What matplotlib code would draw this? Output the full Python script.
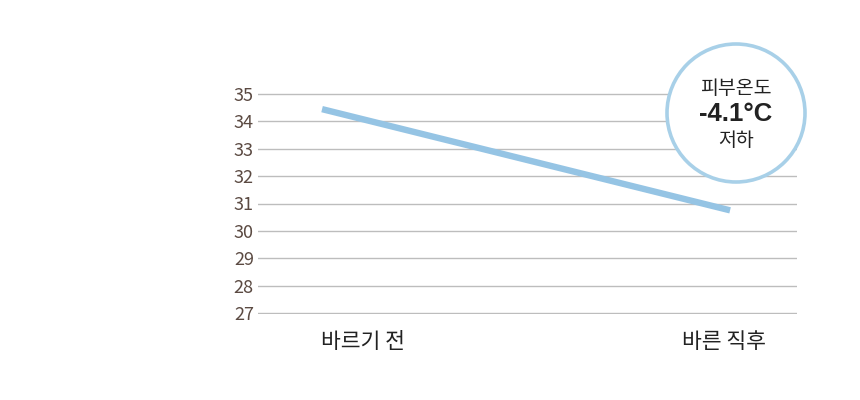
import matplotlib
matplotlib.use("Agg")
import matplotlib.pyplot as plt
from matplotlib.patches import Ellipse

plt.rcParams['font.family'] = ['Noto Sans CJK KR', 'DejaVu Sans']

# data
categories = ["바르기 전", "바른 직후"]
skin_temp = [34.45, 30.75]
y_ticks = [27, 28, 29, 30, 31, 32, 33, 34, 35]
badge_lines = ["피부온도", "-4.1°C", "저하"]

line_color = "#95c4e4"
ring_color = "#a8d0e8"
tick_color = "#5b4a42"

fig = plt.figure(figsize=(8.6, 4.0), dpi=100)
ax = fig.add_axes([258 / 860, 1 - 314 / 400, (797 - 258) / 860, (314 - 93) / 400])

ax.plot([0, 1], skin_temp, color=line_color, linewidth=4.6, solid_capstyle="butt", zorder=3)

ax.set_xlim(-0.157, 1.164)
ax.set_ylim(26.96, 35.04)
ax.set_yticks(y_ticks)
ax.set_yticklabels([str(t) for t in y_ticks])
ax.set_xticks([0.1, 0.985])
ax.set_xticklabels(categories)

ax.grid(axis="y", color="#bdbdbd", linewidth=1.0)
ax.set_axisbelow(True)
for s in ax.spines.values():
    s.set_visible(False)
ax.tick_params(axis="y", length=0, pad=3, labelsize=13, labelcolor=tick_color)
ax.tick_params(axis="x", length=0, pad=12, labelsize=15.5, labelcolor="#222222")
for lbl in ax.get_yticklabels() + ax.get_xticklabels():
    lbl.set_fontweight("light")

# badge circle
cx, cy, r = 736, 113, 69
badge = Ellipse((cx / 860, 1 - cy / 400), 2 * r / 860, 2 * r / 400,
                transform=fig.transFigure, facecolor="white", edgecolor=ring_color,
                linewidth=2.6, zorder=5)
fig.add_artist(badge)
fig.text(cx / 860, 1 - 88 / 400, badge_lines[0], ha="center", va="center",
         fontsize=14, color="#222222", zorder=6)
fig.text(cx / 860, 1 - 114 / 400, badge_lines[1], ha="center", va="center",
         fontsize=18.5, fontweight="bold", color="#222222", zorder=6,
         family=["Liberation Sans"])
fig.text(cx / 860, 1 - 141 / 400, badge_lines[2], ha="center", va="center",
         fontsize=14, color="#222222", zorder=6)

fig.savefig("out.png", dpi=100, facecolor="white")
